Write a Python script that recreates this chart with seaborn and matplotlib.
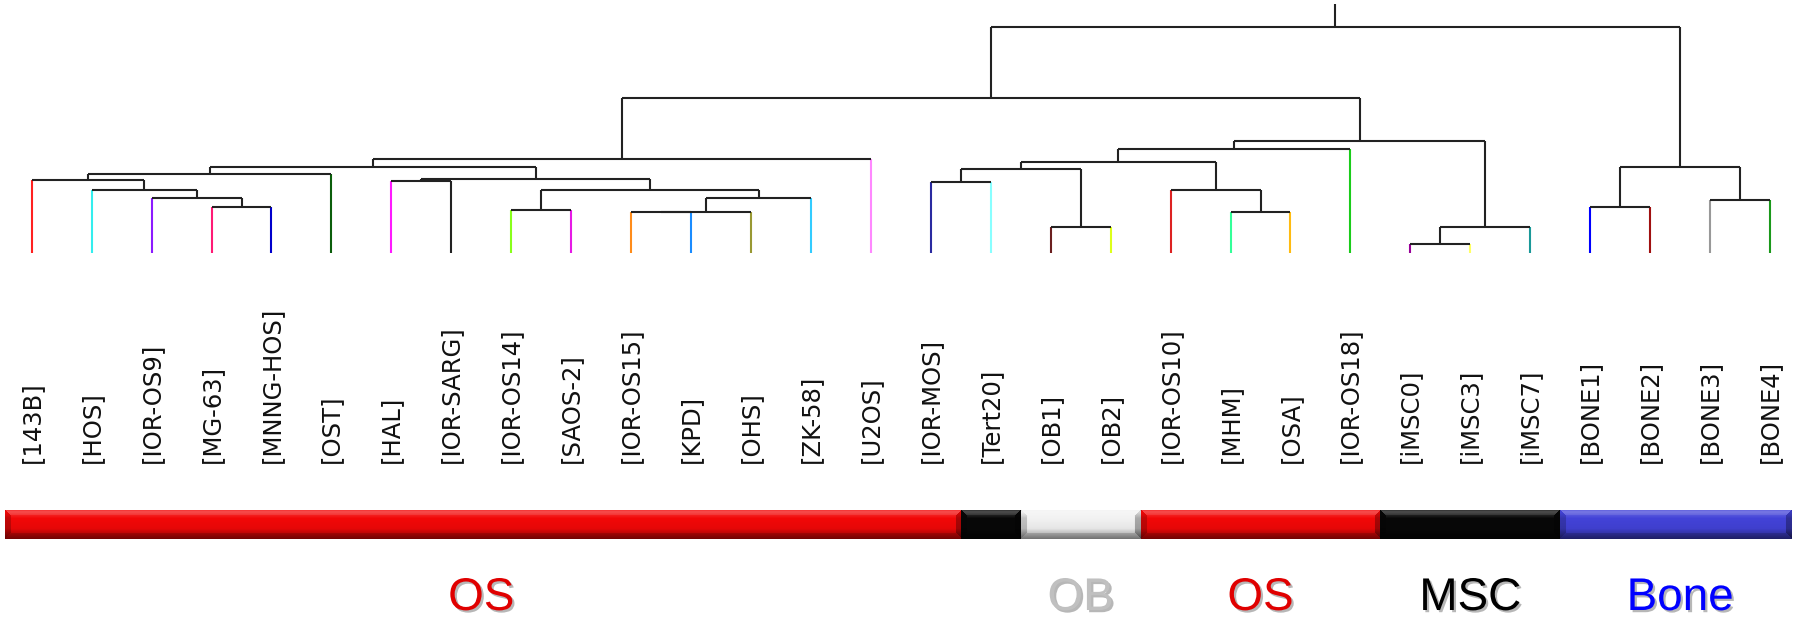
import matplotlib
matplotlib.use("Agg")
import matplotlib.pyplot as plt
import matplotlib.colors as mcolors
import matplotlib.patheffects as pe
import matplotlib.transforms as mtransforms
import numpy as np
import seaborn as sns

sns.set_theme(style="white")
plt.rcParams["font.family"] = ["DejaVu Sans"]

# leaves, in dendrogram order
leaves = ["143B", "HOS", "IOR-OS9", "MG-63", "MNNG-HOS", "OST", "HAL", "IOR-SARG",
          "IOR-OS14", "SAOS-2", "IOR-OS15", "KPD", "OHS", "ZK-58", "U2OS", "IOR-MOS",
          "Tert20", "OB1", "OB2", "IOR-OS10", "MHM", "OSA", "IOR-OS18", "iMSC0",
          "iMSC3", "iMSC7", "BONE1", "BONE2", "BONE3", "BONE4"]
leaf_colors = ["#ff2020", "#33eeee", "#8c1aff", "#ff1a75", "#0000cc", "#0b5e0b",
               "#ff1aff", "#222222", "#88ff1a", "#e61ae6", "#ff8c1a", "#1a8cff",
               "#999933", "#33ccff", "#ff88ff", "#2a2aa0", "#88ffff", "#6b1f1f",
               "#ddff1a", "#dd2222", "#33ff99", "#ffbb11", "#1acc1a", "#990099",
               "#ffff66", "#1a9999", "#0000ff", "#a01010", "#999999", "#1a991a"]

# linkage: cluster 30 + k merges merge_left[k] and merge_right[k] at merge_height[k]
merge_left = [10, 30, 31, 8, 33, 6, 35, 3, 2, 1, 0, 40, 41, 42, 15, 17, 44, 20,
              19, 46, 49, 23, 51, 50, 43, 26, 28, 55, 54]
merge_right = [11, 12, 13, 9, 32, 7, 34, 4, 37, 38, 39, 5, 36, 14, 16, 18, 45, 21,
               47, 48, 22, 24, 25, 52, 53, 27, 29, 56, 57]
merge_height = [41.3, 41.6, 55.6, 43.3, 63.3, 72.0, 74.0, 46.0, 55.6, 63.3, 73.3,
                79.0, 86.6, 94.0, 71.0, 26.0, 84.0, 41.6, 63.3, 91.3, 104.0, 9.0,
                26.0, 112.3, 154.8, 46.0, 53.3, 86.6, 226.0]

# sample groups along the bottom strip
group_sizes = [16, 1, 2, 4, 3, 4]
group_names = ["OS", "", "OB", "OS", "MSC", "Bone"]
group_bar_colors = ["#f20808", "#080808", "#f2f2f2", "#f20808", "#080808", "#4343d8"]
group_text_colors = ["#e00000", "#000000", "#c0c0c0", "#e00000", "#000000", "#0000ff"]

W, H = 1797, 621
fig = plt.figure(figsize=(W / 100, H / 100), dpi=100)
xlim = (-0.529, 29.45)

# ---- dendrogram ----
ax = fig.add_axes([0, 1 - 253.3 / H, 1, 253.3 / H])
n = len(leaves)
xpos = {i: float(i) for i in range(n)}
ypos = {i: 0.0 for i in range(n)}
line_kw = dict(lw=1.5, solid_capstyle="butt", clip_on=False)
for k, (a, b, h) in enumerate(zip(merge_left, merge_right, merge_height)):
    for c in (a, b):
        col = leaf_colors[c] if c < n else "#222222"
        ax.plot([xpos[c], xpos[c]], [ypos[c], h], color=col, **line_kw)
    ax.plot([xpos[a], xpos[b]], [h, h], color="#222222", **line_kw)
    xpos[n + k] = (xpos[a] + xpos[b]) / 2
    ypos[n + k] = h
root = n + len(merge_height) - 1
top = max(merge_height)
ax.plot([xpos[root], xpos[root]], [top, top * 1.103], color="#222222", **line_kw)
ax.set_xlim(*xlim)
ax.set_ylim(0, top * 1.12)
ax.axis("off")

# leaf labels, bottom aligned
trans = mtransforms.blended_transform_factory(ax.transData, fig.transFigure)
for i, name in enumerate(leaves):
    fig.text(i, 1 - 463.3 / H, f"[{name}]", rotation=90, ha="center", va="bottom",
             fontsize=17.5, color="#111111", transform=trans)


# ---- bevelled group bar ----
def bevel_image(color, w, h, bev=6):
    base = np.array(mcolors.to_rgb(color))
    v = np.arange(h)[:, None] * np.ones((1, w))
    u = np.ones((h, 1)) * np.arange(w)[None, :]
    t = np.interp(v / (h - 1), [0, 0.08, 0.3, 0.65, 1.0], [0.05, 0.2, 0.0, -0.05, -0.4])
    dl, dr, dt, db = u, w - 1 - u, v, h - 1 - v
    m = np.minimum(np.minimum(dl, dr), np.minimum(dt, db))
    edge = m < bev
    t = t + np.where(edge & (dt == m), 0.08, 0)
    t = t + np.where(edge & (db == m) & (dt != m), -0.12, 0)
    t = t + np.where(edge & (dl == m) & (dt != m) & (db != m), -0.2, 0)
    t = t + np.where(edge & (dr == m) & (dt != m) & (db != m), -0.3, 0)
    t = t[..., None]
    img = np.where(t > 0, base + (1 - base) * t, base * (1 + t))
    return np.clip(img, 0, 1)


bax = fig.add_axes([0, 1 - 539.3 / H, 1, 29.3 / H])
edges = np.concatenate([[0], np.cumsum(group_sizes)]) - 0.5
px_per_leaf = W / (xlim[1] - xlim[0])
for x0, x1, col in zip(edges[:-1], edges[1:], group_bar_colors):
    x0c, x1c = max(x0, -0.45), min(x1, 29.37)
    img = bevel_image(col, int((x1c - x0c) * px_per_leaf), 30)
    bax.imshow(img, extent=(x0c, x1c, 0, 1), aspect="auto", interpolation="bilinear")
bax.set_xlim(*xlim)
bax.set_ylim(0, 1)
bax.axis("off")

shadow = [pe.withSimplePatchShadow(offset=(1.6, -1.6), shadow_rgbFace="#888888", alpha=0.6)]
btrans = mtransforms.blended_transform_factory(bax.transData, fig.transFigure)
for x0, x1, name, col in zip(edges[:-1], edges[1:], group_names, group_text_colors):
    if name:
        fig.text((x0 + x1) / 2, 1 - 610 / H, name, ha="center", va="baseline",
                 fontsize=33, family="Liberation Sans", color=col,
                 path_effects=shadow, transform=btrans)

fig.savefig("out.png", dpi=100)
